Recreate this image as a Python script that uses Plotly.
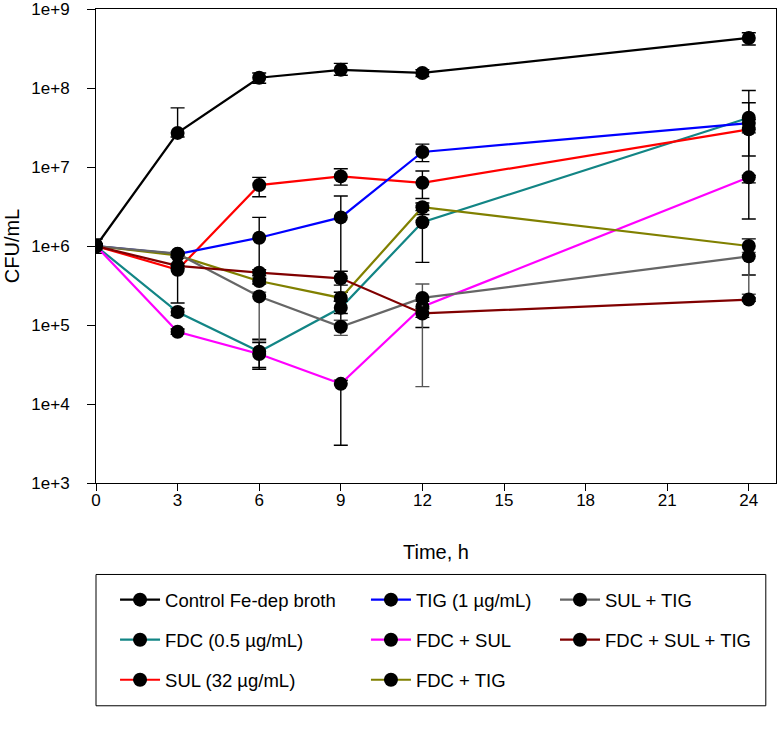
import plotly.graph_objects as go

# ---------------- data ----------------
times = [0, 3, 6, 9, 12, 24]

names = ["Control Fe-dep broth", "TIG (1 µg/mL)", "SUL + TIG",
         "FDC (0.5 µg/mL)", "FDC + SUL", "FDC + SUL + TIG",
         "SUL (32 µg/mL)", "FDC + TIG"]

control = [1.0e6, 2.7e7, 1.35e8, 1.7e8, 1.55e8, 4.3e8]
control_hi = [1.23e6, 5.6e7, 1.55e8, 2.05e8, 1.7e8, 5.0e8]
control_lo = [8.1e5, 2.4e7, 1.15e8, 1.45e8, 1.4e8, 3.5e8]

tig = [1.0e6, 7.9e5, 1.27e6, 2.3e6, 1.55e7, 3.6e7]
tig_hi = [1.0e6, 8.5e5, 2.3e6, 4.3e6, 1.95e7, 6.5e7]
tig_lo = [1.0e6, 7.3e5, 3.8e5, 1.0e5, 1.17e7, 2.7e7]

sul_tig = [1.0e6, 8.0e5, 2.3e5, 9.5e4, 2.2e5, 7.4e5]
sul_tig_hi = [1.0e6, 8.5e5, 2.6e5, 1.15e5, 3.3e5, 8.3e5]
sul_tig_lo = [1.0e6, 7.5e5, 6.3e4, 7.4e4, 1.66e4, 2.45e5]

fdc = [1.0e6, 1.46e5, 4.6e4, 1.65e5, 2.0e6, 4.2e7]
fdc_hi = [1.0e6, 1.62e5, 6.6e4, 2.0e5, 2.5e6, 9.3e7]
fdc_lo = [1.0e6, 1.32e5, 2.9e4, 1.4e5, 6.2e5, 1.38e7]

fdc_sul = [1.0e6, 8.2e4, 4.3e4, 1.8e4, 1.7e5, 7.4e6]
fdc_sul_hi = [1.0e6, 8.9e4, 6.0e4, 2.0e4, 2.0e5, 7.8e6]
fdc_sul_lo = [1.0e6, 7.6e4, 2.75e4, 3.0e3, 9.3e4, 6.3e6]

fdc_sul_tig = [1.0e6, 5.6e5, 4.6e5, 3.9e5, 1.4e5, 2.1e5]
fdc_sul_tig_hi = [1.0e6, 6.0e5, 5.0e5, 4.8e5, 1.6e5, 2.2e5]
fdc_sul_tig_lo = [1.0e6, 5.2e5, 4.2e5, 3.2e5, 1.25e5, 2.0e5]

sul = [1.0e6, 5.0e5, 5.9e6, 7.6e6, 6.3e6, 3.0e7]
sul_hi = [1.0e6, 5.6e5, 7.4e6, 9.5e6, 8.9e6, 4.0e7]
sul_lo = [1.0e6, 1.9e5, 4.2e6, 5.9e6, 4.0e6, 2.2e6]

fdc_tig = [1.0e6, 7.6e5, 3.6e5, 2.2e5, 3.1e6, 1.0e6]
fdc_tig_hi = [1.0e6, 8.0e5, 3.9e5, 2.6e5, 3.5e6, 1.23e6]
fdc_tig_lo = [1.0e6, 7.2e5, 3.3e5, 2.0e5, 2.8e6, 4.3e5]

y_tickvals = [1e3, 1e4, 1e5, 1e6, 1e7, 1e8, 1e9]
y_ticktext = ["1e+3", "1e+4", "1e+5", "1e+6", "1e+7", "1e+8", "1e+9"]
x_tickvals = [0, 3, 6, 9, 12, 15, 18, 21, 24]

# ---------------- styling ----------------
series = [
    (names[0], control, control_hi, control_lo, "#000000", "#000000", "legend", 1),
    (names[3], fdc, fdc_hi, fdc_lo, "#128585", "#000000", "legend", 2),
    (names[6], sul, sul_hi, sul_lo, "#ff0000", "#000000", "legend", 3),
    (names[1], tig, tig_hi, tig_lo, "#0000ff", "#000000", "legend2", 1),
    (names[4], fdc_sul, fdc_sul_hi, fdc_sul_lo, "#ff00ff", "#000000", "legend2", 2),
    (names[7], fdc_tig, fdc_tig_hi, fdc_tig_lo, "#808000", "#000000", "legend2", 3),
    (names[2], sul_tig, sul_tig_hi, sul_tig_lo, "#666666", "#555555", "legend3", 1),
    (names[5], fdc_sul_tig, fdc_sul_tig_hi, fdc_sul_tig_lo, "#800000", "#000000", "legend3", 2),
]

FONT = "Liberation Sans, Arial, sans-serif"

fig = go.Figure()
for name, y, hi, lo, color, ecolor, leg, rank in series:
    plus = [h - v for h, v in zip(hi, y)]
    minus = [v - l for v, l in zip(y, lo)]
    fig.add_trace(go.Scatter(
        x=times, y=y, name=name, mode="lines+markers",
        line=dict(color=color, width=2.2),
        marker=dict(color="black", size=14, symbol="circle"),
        error_y=dict(type="data", array=plus, arrayminus=minus, symmetric=False,
                     color=ecolor, thickness=1.4, width=7),
        legend=leg, legendrank=rank, legendgroup=name,
    ))

legend_common = dict(
    orientation="v", yanchor="top", xanchor="left", y=-0.207,
    font=dict(family=FONT, size=18.5, color="black"),
    bgcolor="rgba(0,0,0,0)", borderwidth=0, tracegroupgap=13,
    itemwidth=40, traceorder="grouped",
)

fig.update_layout(
    width=777, height=740,
    margin=dict(l=96, r=1, t=9, b=257, autoexpand=False),
    paper_bgcolor="white", plot_bgcolor="white",
    font=dict(family=FONT, size=17, color="black"),
    showlegend=True,
    legend=dict(legend_common, x=0.028),
    legend2=dict(legend_common, x=0.397),
    legend3=dict(legend_common, x=0.675),
    xaxis=dict(
        range=[0, 25], tickvals=x_tickvals, ticks="outside", ticklen=7,
        tickwidth=1, tickcolor="black", showline=True, linecolor="black",
        linewidth=1, mirror=True, showgrid=False, zeroline=False,
        automargin=False, ticklabelstandoff=-5, ticklabeloverflow="allow",
        tickfont=dict(size=17), title=dict(text="Time, h", font=dict(size=20), standoff=35),
    ),
    yaxis=dict(
        type="log", range=[3, 9], tickvals=y_tickvals, ticktext=y_ticktext,
        ticks="outside", ticklen=8, tickwidth=1, tickcolor="black",
        showline=True, linecolor="black", linewidth=1, mirror=True,
        showgrid=False, zeroline=False, tickfont=dict(size=17),
        ticklabelstandoff=14, automargin=False, ticklabeloverflow="allow",
        title=dict(text="CFU/mL", font=dict(size=20), standoff=6),
    ),
    shapes=[dict(type="rect", xref="paper", yref="paper",
                 x0=0, x1=0.985, y0=-0.470, y1=-0.193,
                 line=dict(color="black", width=1), fillcolor="rgba(0,0,0,0)")],
)

fig.write_html(
    "out.html",
    config={"displayModeBar": False},
    post_script="document.body.style.margin='0';document.body.style.overflow='hidden';",
)
